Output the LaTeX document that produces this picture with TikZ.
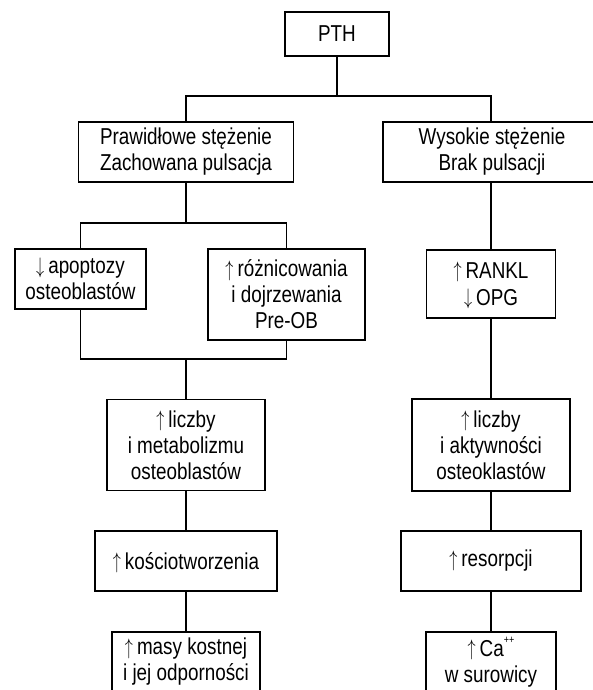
\documentclass[tikz,border=0pt]{standalone}
\usepackage{graphicx}
\usepackage{fontspec}
\setmainfont{Liberation Sans}[FakeStretch=0.82]
\newcommand{\upar}{\raisebox{0.5pt}[0.7em][0pt]{\scalebox{0.65}[0.9]{$\uparrow$}}\kern4pt}
\newcommand{\dnar}{\raisebox{0.5pt}[0.7em][0pt]{\scalebox{0.65}[0.9]{$\downarrow$}}\kern4pt}
\begin{document}
\begin{tikzpicture}[x=1pt,y=-1pt,
  box/.style={draw=black, line width=1.1pt, align=center, inner sep=0pt,
    font=\fontsize{23pt}{26pt}\selectfont},
  link/.style={draw=black, line width=1.1pt}]
\useasboundingbox (0,0) rectangle (593,690);
\clip (0,0) rectangle (593,690);
\node[box, minimum width=104pt, minimum height=44pt] (pth) at (337,34) {PTH};
\node[box, minimum width=215pt, minimum height=60pt] (prawid) at (186,152) {Prawidłowe stężenie\\Zachowana pulsacja};
\node[box, minimum width=218pt, minimum height=60pt] (wys) at (492,152) {Wysokie stężenie\\Brak pulsacji};
\node[box, minimum width=131pt, minimum height=60pt] (apo) at (80.5,279) {\dnar apoptozy\\osteoblastów};
\node[box, minimum width=157pt, minimum height=91pt] (roz) at (286.5,294.5) {\upar różnicowania\\i dojrzewania\\Pre-OB};
\node[box, minimum width=129pt, minimum height=68pt] (rankl) at (491,284) {\upar RANKL\\[1pt]\dnar OPG};
\node[box, minimum width=158pt, minimum height=91pt] (lob) at (186,445) {\upar liczby\\i metabolizmu\\osteoblastów};
\node[box, minimum width=158pt, minimum height=92pt] (lok) at (491,445) {\upar liczby\\i aktywności\\osteoklastów};
\node[box, minimum width=182pt, minimum height=60pt] (kos) at (186,561) {\upar kościotworzenia};
\node[box, minimum width=180pt, minimum height=60pt] (res) at (491,561) {\upar resorpcji};
\node[box, minimum width=148pt, minimum height=60pt] (masy) at (186,662) {\upar masy kostnej\\i jej odporności};
\node[box, minimum width=130pt, minimum height=60pt] (ca) at (491,662) {\upar Ca\raisebox{0.55em}{\fontsize{11pt}{11pt}\selectfont ++}\\w surowicy};
% top branch
\coordinate (j1) at (337,96);
\draw[link] (pth.south) -- (j1);
\draw[link] (prawid.north) |- (rankl.north |- j1) -- (rankl.north |- wys.north);
% left branch
\coordinate (j2) at (186,223);
\draw[link] (prawid.south) -- (j2);
\draw[link] (apo.north) |- (roz.north |- j2) -- (roz.north);
% merge
\coordinate (j3) at (186,359);
\draw[link] (apo.south) |- (roz.south |- j3) -- (roz.south);
\draw[link] (j3) -- (lob.north);
\draw[link] (lob.south) -- (kos.north);
\draw[link] (kos.south) -- (masy.north);
% right column
\draw[link] (rankl.north |- wys.south) -- (rankl.north);
\draw[link] (rankl.south) -- (lok.north);
\draw[link] (lok.south) -- (res.north);
\draw[link] (res.south) -- (ca.north);
\end{tikzpicture}
\end{document}
